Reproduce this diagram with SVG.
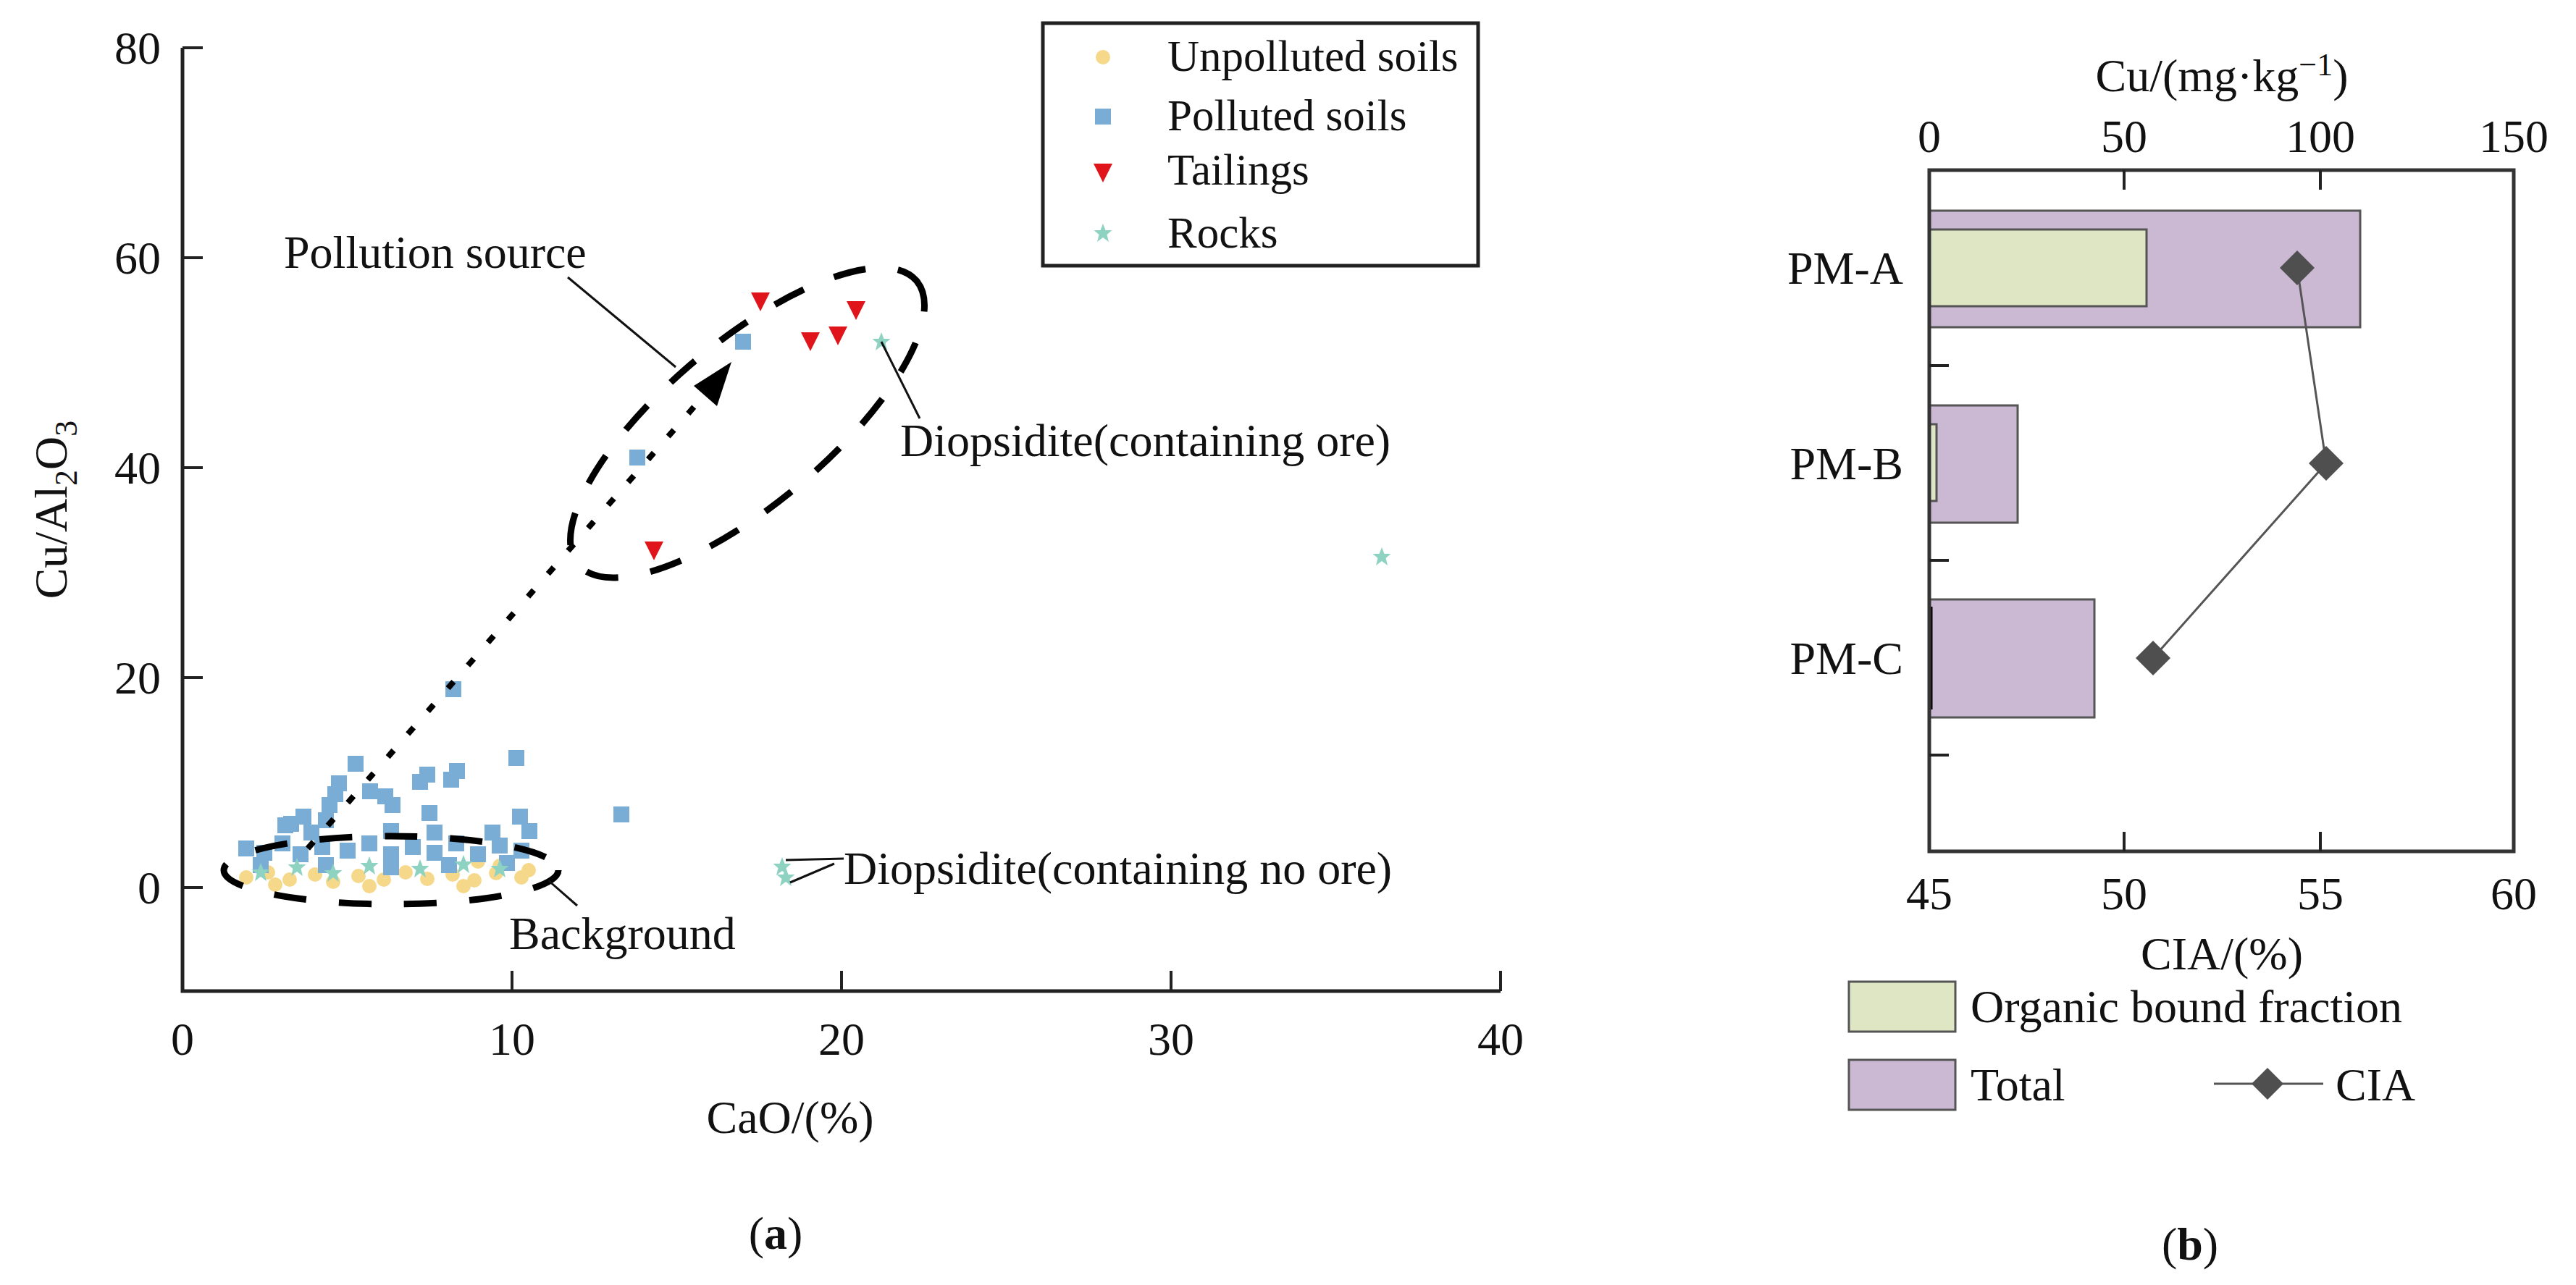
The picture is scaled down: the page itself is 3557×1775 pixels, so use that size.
<svg xmlns="http://www.w3.org/2000/svg" width="3557" height="1775" viewBox="0 0 3557 1775">
<defs>
<style>
text{font-family:"Liberation Serif","Times New Roman",serif;font-size:64px;fill:#111}
.lg{font-size:61px}
.ax{stroke:#222;stroke-width:5;fill:none}
.tk{stroke:#222;stroke-width:4}
.mid{text-anchor:middle}
.end{text-anchor:end}
.dash{fill:none;stroke:#000;stroke-width:9;stroke-dasharray:45 45}
.sq{fill:#7aadd6}
.ci{fill:#f5d889}
.tr{fill:#e0151b}
.st{fill:#8ed2c2}
.tot{fill:#cbb9d3;stroke:#555;stroke-width:3}
.org{fill:#dfe6c4;stroke:#555;stroke-width:3}
.dm{fill:#4f4f4f}
.thin{stroke:#111;stroke-width:3;fill:none}
</style>
<rect id="s" x="-11" y="-11" width="22" height="22"/>
<circle id="c" r="10"/>
<path id="t" d="M-13,-12 L13,-12 L0,14 Z"/>
<path id="r" d="M0,-13 L3.5,-4 L12.5,-4 L5.5,2 L8,12 L0,6 L-8,12 L-5.5,2 L-12.5,-4 L-3.5,-4 Z"/>
<path id="d" d="M0,-24 L24,0 L0,24 L-24,0 Z"/>
</defs>
<rect width="3557" height="1775" fill="#fff"/>

<g id="panel-a-axes">
<path class="ax" d="M252,66 V1369 H2072"/>
<path class="tk" d="M252,66 h28 M252,356 h28 M252,646 h28 M252,936 h28 M252,1226 h28 M707,1369 v-28 M1162,1369 v-28 M1617,1369 v-28 M2072,1369 v-28"/>
<text class="end" x="222" y="88">80</text>
<text class="end" x="222" y="378">60</text>
<text class="end" x="222" y="668">40</text>
<text class="end" x="222" y="958">20</text>
<text class="end" x="222" y="1248">0</text>
<text class="mid" x="252" y="1457">0</text>
<text class="mid" x="707" y="1457">10</text>
<text class="mid" x="1162" y="1457">20</text>
<text class="mid" x="1617" y="1457">30</text>
<text class="mid" x="2072" y="1457">40</text>
<text class="mid" x="1091" y="1565">CaO/(%)</text>
<text class="mid" transform="translate(92,704) rotate(-90)">Cu/Al<tspan font-size="44" dy="14">2</tspan><tspan dy="-14">O</tspan><tspan font-size="44" dy="14">3</tspan></text>
<text class="mid" x="1071" y="1725">(<tspan font-weight="bold">a</tspan>)</text>
</g>

<g id="scatter">
<g class="ci" transform="translate(40 0)">
<use href="#c" x="300" y="1212"/><use href="#c" x="330" y="1205"/><use href="#c" x="360" y="1215"/><use href="#c" x="395" y="1208"/><use href="#c" x="420" y="1218"/><use href="#c" x="455" y="1210"/><use href="#c" x="490" y="1215"/><use href="#c" x="520" y="1205"/><use href="#c" x="550" y="1214"/><use href="#c" x="585" y="1208"/><use href="#c" x="615" y="1216"/><use href="#c" x="645" y="1206"/><use href="#c" x="680" y="1212"/><use href="#c" x="690" y="1202"/><use href="#c" x="650" y="1196"/><use href="#c" x="620" y="1190"/><use href="#c" x="340" y="1222"/><use href="#c" x="470" y="1224"/><use href="#c" x="600" y="1224"/>
</g>
<g class="sq">
<use href="#s" x="1026" y="472"/><use href="#s" x="880" y="632"/><use href="#s" x="626" y="952"/>
<use href="#s" x="491" y="1055"/><use href="#s" x="468" y="1082"/><use href="#s" x="463" y="1097"/><use href="#s" x="455" y="1112"/><use href="#s" x="419" y="1128"/><use href="#s" x="394" y="1140"/><use href="#s" x="511" y="1093"/><use href="#s" x="532" y="1100"/><use href="#s" x="542" y="1112"/><use href="#s" x="590" y="1070"/><use href="#s" x="580" y="1080"/><use href="#s" x="631" y="1065"/><use href="#s" x="623" y="1077"/><use href="#s" x="713" y="1047"/><use href="#s" x="593" y="1123"/><use href="#s" x="718" y="1128"/><use href="#s" x="731" y="1148"/><use href="#s" x="858" y="1125"/><use href="#s" x="450" y="1133"/><use href="#s" x="402" y="1138"/><use href="#s" x="430" y="1150"/>
<g transform="translate(40 0)">
<use href="#s" x="300" y="1172"/><use href="#s" x="325" y="1178"/><use href="#s" x="350" y="1165"/><use href="#s" x="375" y="1180"/><use href="#s" x="405" y="1170"/><use href="#s" x="440" y="1175"/><use href="#s" x="470" y="1165"/><use href="#s" x="500" y="1180"/><use href="#s" x="530" y="1170"/><use href="#s" x="560" y="1178"/><use href="#s" x="590" y="1165"/><use href="#s" x="620" y="1180"/><use href="#s" x="650" y="1168"/><use href="#s" x="680" y="1175"/><use href="#s" x="640" y="1150"/><use href="#s" x="560" y="1150"/><use href="#s" x="500" y="1148"/><use href="#s" x="320" y="1195"/><use href="#s" x="410" y="1195"/><use href="#s" x="500" y="1198"/><use href="#s" x="580" y="1195"/><use href="#s" x="660" y="1192"/>
</g>
</g>
<g class="st">
<g transform="translate(40 0)">
<use href="#r" x="320" y="1205"/><use href="#r" x="370" y="1198"/><use href="#r" x="420" y="1206"/><use href="#r" x="470" y="1196"/><use href="#r" x="540" y="1200"/><use href="#r" x="600" y="1194"/><use href="#r" x="650" y="1200"/>
</g>
<use href="#r" x="1217" y="472"/><use href="#r" x="1908" y="769"/><use href="#r" x="1080" y="1197"/><use href="#r" x="1085" y="1212"/>
</g>
<g class="tr">
<use href="#t" x="1050" y="416"/><use href="#t" x="1182" y="428"/><use href="#t" x="1119" y="471"/><use href="#t" x="1157" y="463"/><use href="#t" x="903" y="760"/>
</g>
</g>

<g id="annotations">
<ellipse class="dash" cx="1032" cy="584" rx="305" ry="112" transform="rotate(-40 1032 584)"/>
<ellipse class="dash" cx="540" cy="1202" rx="231" ry="47" stroke-dasharray="40 40"/>
<path d="M425,1172 L975,543" stroke="#000" stroke-width="8" stroke-dasharray="12 30" fill="none"/>
<path d="M1010,500 L958,533 L990,561 Z" fill="#000"/>
<path class="thin" d="M784,383 L933,507"/>
<text x="392" y="370">Pollution source</text>
<path class="thin" d="M1217,472 L1270,578"/>
<text x="1243" y="630">Diopsidite(containing ore)</text>
<path class="thin" d="M757,1216 L797,1251"/>
<text x="703" y="1311">Background</text>
<path class="thin" d="M1165,1186 L1085,1188 M1152,1193 L1091,1219"/>
<text x="1165" y="1221">Diopsidite(containing no ore)</text>
</g>

<g id="legend-a">
<rect x="1440" y="32" width="601" height="335" fill="#fff" stroke="#222" stroke-width="5"/>
<use href="#c" x="1523" y="79" class="ci"/>
<text class="lg" x="1612" y="98">Unpolluted soils</text>
<use href="#s" x="1523" y="161" class="sq"/>
<text class="lg" x="1612" y="180">Polluted soils</text>
<use href="#t" x="1523" y="238" class="tr"/>
<text class="lg" x="1612" y="255">Tailings</text>
<use href="#r" x="1523" y="322" class="st"/>
<text class="lg" x="1612" y="342">Rocks</text>
</g>

<g id="panel-b">
<rect x="2664" y="291" width="595" height="161" class="tot"/>
<rect x="2664" y="317" width="300" height="106" class="org"/>
<rect x="2664" y="560" width="122" height="162" class="tot"/>
<rect x="2664" y="586" width="10" height="106" class="org"/>
<rect x="2664" y="828" width="228" height="163" class="tot"/>
<path d="M2666,838 V980" stroke="#000" stroke-width="5"/>
<rect x="2664" y="235" width="807" height="941" fill="none" stroke="#333" stroke-width="5"/>
<path class="tk" d="M2933,235 v27 M3204,235 v27 M2933,1176 v-27 M3204,1176 v-27 M2664,505 h27 M2664,774 h27 M2664,1043 h27"/>
<text class="mid" x="2664" y="210">0</text>
<text class="mid" x="2933" y="210">50</text>
<text class="mid" x="3204" y="210">100</text>
<text class="mid" x="3471" y="210">150</text>
<text class="mid" x="3068" y="126">Cu/(mg·kg<tspan font-size="44" dy="-22">−1</tspan><tspan dy="22">)</tspan></text>
<text class="mid" x="2664" y="1256">45</text>
<text class="mid" x="2933" y="1256">50</text>
<text class="mid" x="3204" y="1256">55</text>
<text class="mid" x="3471" y="1256">60</text>
<text class="mid" x="3068" y="1339">CIA/(%)</text>
<text class="end" x="2628" y="392">PM-A</text>
<text class="end" x="2628" y="662">PM-B</text>
<text class="end" x="2628" y="931">PM-C</text>
<path d="M3172,370 L3212,640 L2973,909" stroke="#555" stroke-width="3" fill="none"/>
<use href="#d" x="3172" y="370" class="dm"/>
<use href="#d" x="3212" y="640" class="dm"/>
<use href="#d" x="2973" y="909" class="dm"/>
<text class="mid" x="3024" y="1740">(<tspan font-weight="bold">b</tspan>)</text>
</g>

<g id="legend-b">
<rect x="2553" y="1356" width="147" height="69" class="org"/>
<text x="2721" y="1412">Organic bound fraction</text>
<rect x="2553" y="1464" width="147" height="69" class="tot"/>
<text x="2721" y="1520">Total</text>
<path d="M3057,1497 H3208" stroke="#555" stroke-width="3"/>
<path d="M3131,1475 L3153,1497 L3131,1519 L3109,1497 Z" class="dm"/>
<text x="3225" y="1520">CIA</text>
</g>
</svg>
